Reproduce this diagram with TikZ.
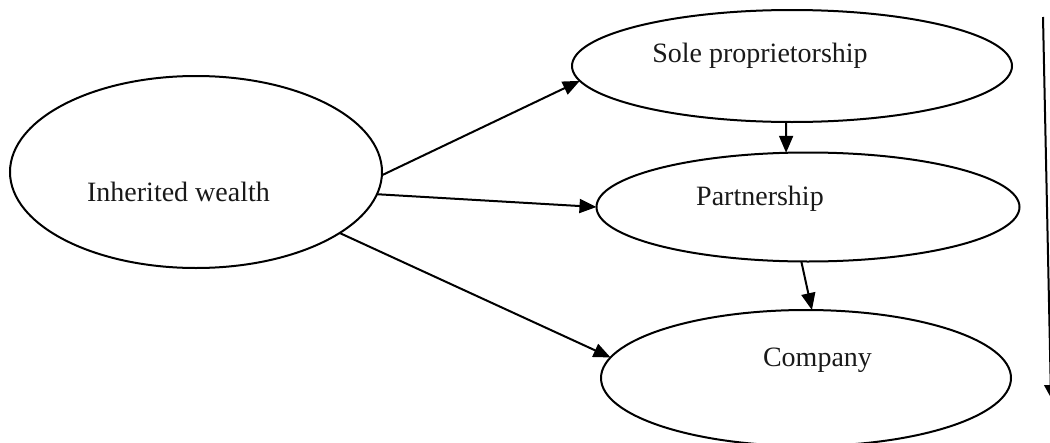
\documentclass[tikz,border=0pt]{standalone}
\usepackage{fontspec}
\setmainfont{Liberation Serif}
\usetikzlibrary{arrows.meta,shapes.geometric}
\begin{document}
\begin{tikzpicture}[x=1pt,y=-1pt,
  bubble/.style={draw=black,line width=2pt,ellipse,inner sep=0pt,outer sep=0pt},
  lbl/.style={anchor=base,inner sep=0pt,font=\fontsize{28}{32}\selectfont,text=black!90},
  conn/.style={line width=2pt,-{Triangle[length=17pt,width=14pt]}}]
\useasboundingbox (0,0) rectangle (1050,442);
\node[bubble,minimum width=372pt,minimum height=192pt] (iw) at (196,172) {};
\node[bubble,minimum width=440pt,minimum height=112pt] (sp) at (792,66) {};
\node[bubble,minimum width=423pt,minimum height=109pt] (pa) at (808,207) {};
\node[bubble,minimum width=410pt,minimum height=136pt] (co) at (806,378) {};
\node[lbl] (tiw) at (178.5,201) {Inherited wealth};
\node[lbl] (tsp) at (760,62) {Sole proprietorship};
\node[lbl] (tpa) at (760,205) {Partnership};
\node[lbl] (tco) at (817.5,366) {Company};
\draw[conn] (iw.-1) -- (sp.184);
\draw[conn] (iw.-7) -- (pa.180);
\draw[conn] (iw.-23) -- (co.174);
\draw[conn] (sp.-96) -- (pa.112);
\draw[conn] (pa.-97) -- (co.85);
\coordinate (vtop) at (1043,17);
\coordinate (vbot) at (1051,398);
\draw[line width=2pt,-{Triangle[length=13pt,width=13pt]}] (vtop) -- (vbot);
\end{tikzpicture}
\end{document}
